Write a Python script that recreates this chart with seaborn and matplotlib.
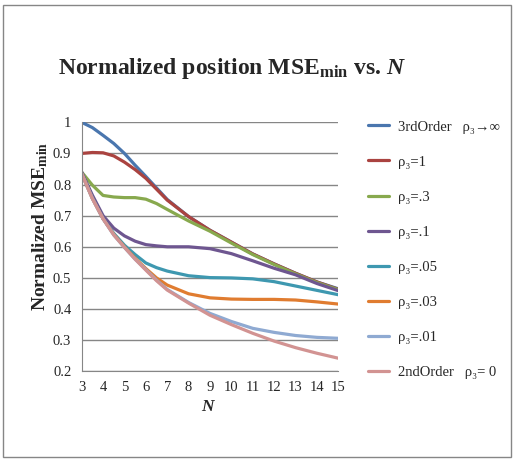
import numpy as np
import pandas as pd
import seaborn as sns
import matplotlib.pyplot as plt
from matplotlib.patches import Rectangle

# values
n_values = [3, 3.5, 4, 4.5, 5, 5.5, 6, 6.5, 7, 8, 9, 10, 11, 12, 13, 14, 15]

third_order = [1.0, 0.983, 0.958, 0.932, 0.90, 0.862, 0.826, 0.789, 0.752, 0.697, 0.653, 0.615, 0.577, 0.545, 0.515, 0.487, 0.465]
rho_1 = [0.90, 0.903, 0.902, 0.892, 0.872, 0.848, 0.82, 0.785, 0.75, 0.697, 0.653, 0.615, 0.577, 0.545, 0.515, 0.487, 0.463]
rho_03 = [0.84, 0.798, 0.765, 0.76, 0.758, 0.758, 0.753, 0.739, 0.72, 0.683, 0.65, 0.612, 0.575, 0.543, 0.513, 0.485, 0.462]
rho_01 = [0.84, 0.766, 0.70, 0.66, 0.635, 0.618, 0.607, 0.603, 0.60, 0.60, 0.594, 0.578, 0.555, 0.531, 0.51, 0.482, 0.459]
rho_005 = [0.835, 0.757, 0.69, 0.643, 0.605, 0.575, 0.548, 0.533, 0.522, 0.507, 0.501, 0.50, 0.497, 0.488, 0.474, 0.46, 0.446]
rho_003 = [0.835, 0.755, 0.69, 0.64, 0.60, 0.563, 0.53, 0.50, 0.477, 0.449, 0.436, 0.432, 0.431, 0.431, 0.429, 0.423, 0.416]
rho_001 = [0.835, 0.755, 0.69, 0.638, 0.598, 0.56, 0.527, 0.493, 0.463, 0.421, 0.386, 0.36, 0.338, 0.325, 0.315, 0.309, 0.306]
second_order = [0.835, 0.755, 0.69, 0.638, 0.598, 0.56, 0.525, 0.491, 0.461, 0.419, 0.38, 0.35, 0.322, 0.297, 0.276, 0.258, 0.242]

series_labels = ["3rdOrder   ρ₃→∞", "ρ₃=1", "ρ₃=.3", "ρ₃=.1", "ρ₃=.05",
                 "ρ₃=.03", "ρ₃=.01", "2ndOrder   ρ₃= 0"]
series_values = [third_order, rho_1, rho_03, rho_01, rho_005, rho_003, rho_001, second_order]
colors = ["#4A76AE", "#AA4340", "#88A94E", "#6E5690", "#3E98B0",
          "#E07C30", "#8FAAD2", "#D29392"]

x_ticks = [3, 4, 5, 6, 7, 8, 9, 10, 11, 12, 13, 14, 15]
y_ticks = [0.2, 0.3, 0.4, 0.5, 0.6, 0.7, 0.8, 0.9, 1.0]
y_tick_labels = ["0.2", "0.3", "0.4", "0.5", "0.6", "0.7", "0.8", "0.9", "1"]

rows = []
for label, vals in zip(series_labels, series_values):
    for n, v in zip(n_values, vals):
        rows.append({"N": n, "value": v, "series": label})
df = pd.DataFrame(rows)

sns.set_style("white")
plt.rcParams['font.family'] = ['Liberation Serif', 'DejaVu Serif']
plt.rcParams['mathtext.fontset'] = 'custom'
plt.rcParams['mathtext.rm'] = 'Liberation Serif:bold'
plt.rcParams['mathtext.it'] = 'Liberation Serif:italic:bold'
plt.rcParams['mathtext.bf'] = 'Liberation Serif:bold'

grey = "#868686"
fig = plt.figure(figsize=(5.2, 4.61), dpi=100)
ax = fig.add_axes([0.1571, 0.1946, 0.4935, 0.5401])

sns.lineplot(data=df, x="N", y="value", hue="series", hue_order=series_labels,
             palette=colors, linewidth=2.3, ax=ax, legend=True)

ax.set_xlim(3, 15)
ax.set_ylim(0.2, 1.0)
ax.set_xticks(x_ticks)
ax.set_xticklabels([str(n) for n in x_ticks], fontsize=10.5)
ax.set_yticks(y_ticks)
ax.set_yticklabels(y_tick_labels, fontsize=10.5)
ax.yaxis.grid(True, color=grey, linewidth=1)
ax.set_axisbelow(True)
for side in ["top", "right"]:
    ax.spines[side].set_visible(False)
for side in ["left", "bottom"]:
    ax.spines[side].set_color(grey)
ax.tick_params(axis="both", direction="out", length=4, color=grey, width=1)
ax.tick_params(axis="x", pad=3)
ax.set_xlabel("")
ax.set_ylabel("")

handles, labels = ax.get_legend_handles_labels()
ax.legend(handles, labels, loc="upper left", bbox_to_anchor=(361 / 520, 1 - 113 / 461),
          bbox_transform=fig.transFigure, frameon=False, fontsize=10.5,
          handlelength=1.45, handletextpad=0.6, labelspacing=1.5, borderpad=0)

fig.text(0.446, 1 - 68 / 461, "Normalized position MSE$_\\mathrm{min}$ vs. $N$",
         ha="center", va="center", fontsize=17, fontweight="bold")
fig.text(40 / 520, 1 - 226 / 461, "Normalized MSE$_\\mathrm{min}$", rotation=90,
         ha="center", va="center", fontsize=14, fontweight="bold")
fig.text(209 / 520, 1 - 407 / 461, "$N$", ha="center", va="center", fontsize=12.5)

fig.add_artist(Rectangle((3 / 520, 4 / 461), 508 / 520, 452 / 461, transform=fig.transFigure,
                         fill=False, edgecolor=grey, linewidth=1))

fig.savefig("out.png", dpi=100)
